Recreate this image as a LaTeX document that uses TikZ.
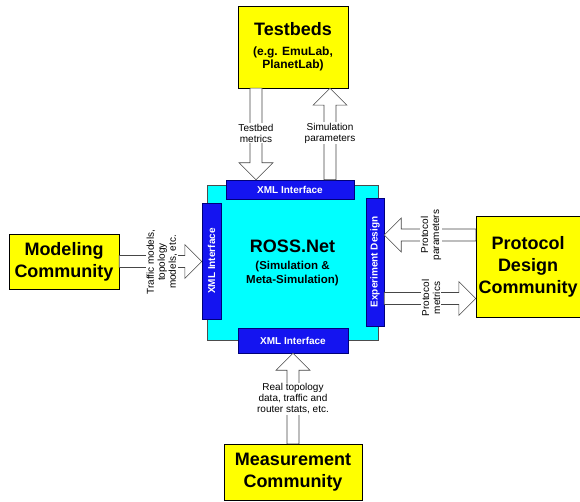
\documentclass[tikz,border=0pt]{standalone}
\usepackage{fontspec}
\setmainfont{Liberation Sans}
\usepackage{tikz}
\usepackage{xcolor}
\usetikzlibrary{positioning,calc}

\definecolor{boxyellow}{RGB}{255,255,0}
\definecolor{corecyan}{RGB}{0,255,255}
\definecolor{barblue}{RGB}{20,20,240}
\definecolor{barnavy}{RGB}{0,0,120}
\definecolor{arrowgray}{RGB}{70,70,70}

\newcommand{\fatarrow}[2]{%
\path ($(#2)!17pt!(#1)$) coordinate (hb);
\draw[fat] ($(#1)!6pt!90:(#2)$) -- ($(hb)!6pt!90:(#2)$) -- ($(hb)!17pt!90:(#2)$)
  -- (#2) -- ($(hb)!17pt!-90:(#2)$) -- ($(hb)!6pt!-90:(#2)$) -- ($(#1)!6pt!-90:(#2)$) -- cycle;}
\newcommand{\bigsz}{\fontsize{18}{22}\selectfont}

\begin{document}
\begin{tikzpicture}[x=1pt,y=-1pt,
  party/.style={draw=black,fill=boxyellow,inner sep=0pt,align=center,font=\fontsize{18}{22}\selectfont\bfseries},
  bar/.style={draw=barnavy,fill=barblue,inner sep=0pt,text=white,font=\fontsize{10}{12}\selectfont\bfseries},
  fat/.style={draw=arrowgray,fill=white,line width=0.6pt},
  tag/.style={fill=white,inner sep=1pt,align=center,font=\fontsize{10}{11}\selectfont}]
\useasboundingbox (0,0) rectangle (580,502);

\node[draw=black!70,fill=corecyan,minimum width=171pt,minimum height=155pt,align=center,
  font=\fontsize{11.5}{14}\selectfont\bfseries] (core) at (292.5,262.5)
  {\bigsz ROSS.Net\\[3pt](Simulation \&\\Meta-Simulation)};
\node[bar,minimum width=128pt,minimum height=19pt] (xt) at (290,189.5) {XML Interface};
\node[bar,minimum width=110pt,minimum height=25pt] (xb) at (293,340.5) {XML Interface};
\node[bar,minimum width=116pt,minimum height=19pt,rotate=90] (xl) at (211.5,261) {XML Interface};
\node[bar,minimum width=128pt,minimum height=18pt,rotate=90] (ed) at (375,262) {Experiment Design};

\node[party,minimum width=110pt,minimum height=82pt,font=\fontsize{12}{13.5}\selectfont\bfseries] (tb) at (293,47)
  {\bigsz Testbeds\\[6pt](e.g. EmuLab,\\PlanetLab)};
\node[party,minimum width=110pt,minimum height=55pt] (mc) at (64,261.5) {Modeling\\ Community};
\node[party,minimum width=104pt,minimum height=101pt] (pd) at (528,266.5) {Protocol\\ Design\\ Community};
\node[party,minimum width=138pt,minimum height=56pt] (ms) at (293,472) {Measurement\\ Community};

\coordinate (tm0) at ([xshift=-37pt]tb.south);
\coordinate (tm1) at (tm0 |- xt.north);
\coordinate (sp1) at ([xshift=37pt]tb.south);
\coordinate (sp0) at (sp1 |- xt.north);
\coordinate (mm1) at (mc.east -| xl.north);
\coordinate (pp0) at ([yshift=31.5pt]pd.west);
\coordinate (pp1) at (pp0 -| ed.south);
\coordinate (pm1) at ([yshift=-32pt]pd.west);
\coordinate (pm0) at (pm1 -| ed.south);
\coordinate (rt1) at (ms.north |- xb.south);

\fatarrow{tm0}{tm1}
\fatarrow{sp0}{sp1}
\fatarrow{mc.east}{mm1}
\fatarrow{pp0}{pp1}
\fatarrow{pm0}{pm1}
\fatarrow{ms.north}{rt1}

\node[tag] (tml) at (256,133) {Testbed\\ metrics};
\node[tag] (spl) at (330,133) {Simulation\\ parameters};
\node[tag,rotate=90] (mml) at (162,262) {Traffic models,\\ topology\\ models, etc.};
\node[tag,rotate=90] (ppl) at (431,235) {Protocol\\ parameters};
\node[tag,rotate=90] (pml) at (431,298) {Protocol\\ metrics};
\node[tag] (rtl) at (293,399) {Real topology\\ data, traffic and\\ router stats, etc.};
\end{tikzpicture}
\end{document}
